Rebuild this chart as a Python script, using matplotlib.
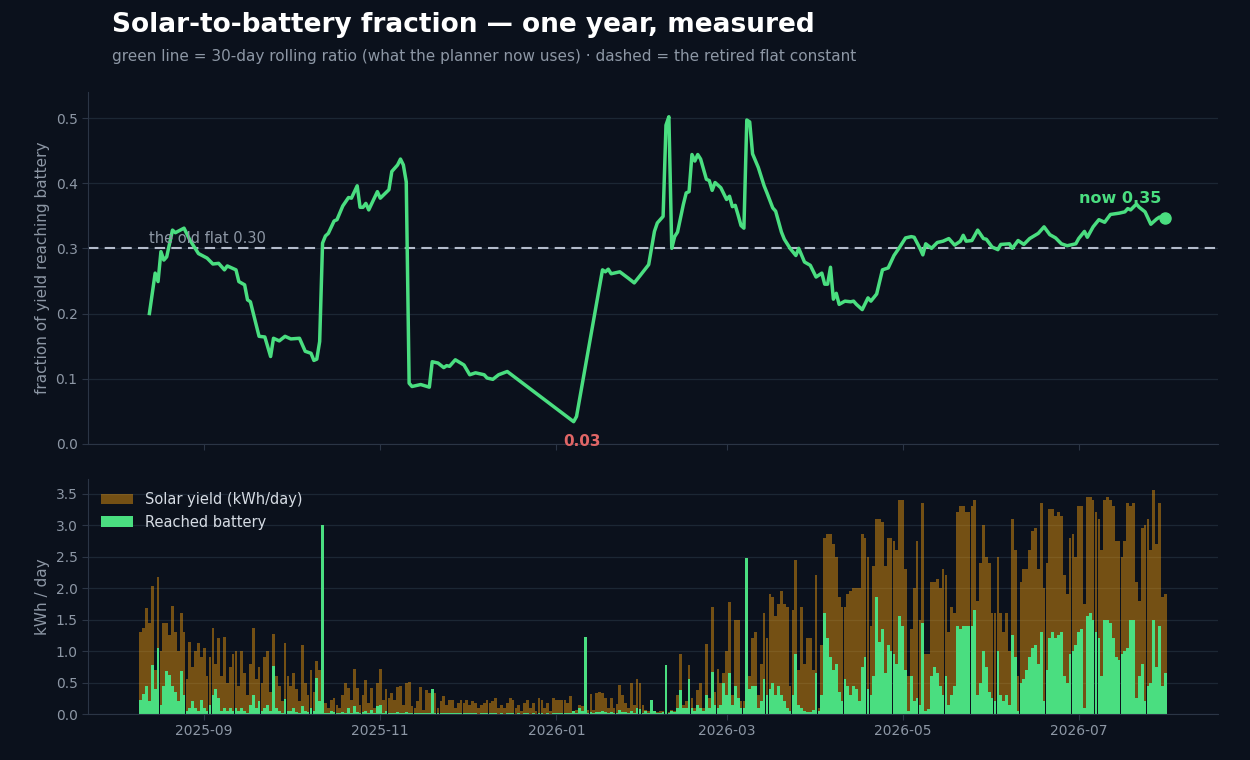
import matplotlib

matplotlib.use("Agg")

import matplotlib.dates as mdates
import matplotlib.pyplot as plt
import numpy as np
import pandas as pd


OUT_PATH = "out.png"

BG = "#0b111c"
GRID = "#1c2734"
SPINE = "#2b3545"
MUTED = "#8d97a5"
GREEN = "#4ade80"
AMBER = "#f59e0b"
RED = "#e06666"
FLAT = "#b4bccc"

START = "2025-08-10"
FLAT_CONSTANT = 0.30

# daily solar yield, kWh (one row per month, Aug 10 2025 .. Jul 31 2026)
yield_aug = [1.30, 1.37, 1.68, 1.45, 2.03, 0.70, 2.18, 1.00, 1.45, 1.45, 1.25, 1.72, 1.30, 1.00, 1.60, 1.30,
             0.55, 1.15, 0.75, 1.00, 1.13, 0.90]
yield_sep = [1.05, 0.60, 0.90, 1.37, 0.80, 1.20, 0.60, 1.23, 0.50, 0.75, 0.95, 1.00, 0.45, 1.00, 0.65, 0.30,
             0.80, 1.37, 0.55, 0.75, 0.50, 0.90, 1.00, 0.35, 1.27, 0.60, 0.45, 0.20, 1.13, 0.60]
yield_oct = [0.45, 0.65, 0.40, 0.20, 1.10, 0.50, 0.30, 0.70, 0.35, 0.84, 0.70, 0.30, 0.17, 0.10, 0.23, 0.25,
             0.15, 0.10, 0.30, 0.49, 0.41, 0.22, 0.71, 0.41, 0.15, 0.30, 0.54, 0.17, 0.41, 0.10, 0.49]
yield_nov = [0.72, 0.22, 0.39, 0.25, 0.33, 0.22, 0.43, 0.44, 0.14, 0.49, 0.51, 0.12, 0.09, 0.20, 0.43, 0.06,
             0.38, 0.34, 0.30, 0.33, 0.09, 0.21, 0.29, 0.14, 0.23, 0.23, 0.09, 0.18, 0.22, 0.18]
yield_dec = [0.22, 0.15, 0.20, 0.17, 0.09, 0.15, 0.17, 0.22, 0.17, 0.20, 0.25, 0.10, 0.14, 0.09, 0.17, 0.25,
             0.22, 0.10, 0.14, 0.05, 0.17, 0.22, 0.10, 0.18, 0.05, 0.25, 0.22, 0.10, 0.18, 0.05, 0.25]
yield_jan = [0.22, 0.23, 0.23, 0.23, 0.17, 0.29, 0.04, 0.06, 0.14, 0.12, 0.13, 0.06, 0.32, 0.06, 0.33, 0.35,
             0.33, 0.26, 0.09, 0.26, 0.09, 0.16, 0.46, 0.30, 0.17, 0.09, 0.50, 0.14, 0.55, 0.50, 0.14]
yield_feb = [0.06, 0.05, 0.05, 0.03, 0.03, 0.04, 0.05, 0.04, 0.03, 0.06, 0.05, 0.30, 0.95, 0.15, 0.20, 0.78,
             0.25, 0.10, 0.38, 0.50, 0.10, 1.11, 0.25, 1.70, 0.35, 0.72, 0.50, 0.65]
yield_mar = [1.00, 1.78, 0.30, 1.50, 1.50, 0.20, 0.20, 0.25, 0.60, 1.20, 1.30, 0.30, 0.80, 1.60, 1.20, 1.90,
             1.85, 1.55, 1.75, 1.95, 1.75, 1.70, 0.45, 1.65, 2.45, 0.70, 1.70, 0.80, 1.20, 1.20, 0.70]
yield_apr = [2.20, 0.10, 1.10, 2.80, 2.85, 2.85, 2.70, 2.50, 1.85, 1.70, 1.70, 1.90, 1.95, 2.00, 2.00, 2.00,
             2.85, 2.80, 2.50, 1.40, 2.35, 3.10, 3.10, 3.05, 2.35, 2.80, 2.80, 2.75, 2.60, 3.40]
yield_may = [3.40, 2.30, 0.60, 1.35, 2.00, 2.75, 1.50, 3.35, 0.95, 0.95, 2.10, 2.10, 2.15, 2.00, 2.30, 2.20,
             1.30, 1.70, 1.60, 3.20, 3.30, 3.30, 3.20, 3.20, 3.30, 3.40, 1.80, 2.40, 3.00, 2.50, 2.40]
yield_jun = [1.60, 1.60, 2.50, 1.60, 1.30, 1.60, 1.00, 3.10, 2.60, 0.60, 2.10, 2.30, 2.30, 2.60, 2.90, 2.95,
             2.30, 3.35, 2.00, 2.40, 3.25, 3.25, 3.15, 3.20, 3.15, 2.20, 1.90, 2.80, 2.85, 2.50]
yield_jul = [3.30, 3.30, 1.75, 3.45, 3.45, 3.40, 3.20, 3.10, 2.60, 3.40, 3.45, 3.40, 3.30, 2.75, 2.75, 2.50,
             2.75, 3.35, 3.30, 3.35, 2.10, 1.80, 2.95, 3.00, 3.10, 2.60, 3.55, 2.70, 3.35, 1.85, 1.90]

# daily energy that reached the battery, kWh
bat_aug = [0.23, 0.32, 0.45, 0.20, 0.78, 0.40, 1.05, 0.15, 0.45, 0.69, 0.62, 0.45, 0.35, 0.20, 0.68, 0.30,
           0.05, 0.10, 0.20, 0.10, 0.05, 0.23]
bat_sep = [0.10, 0.05, 0.15, 0.30, 0.39, 0.25, 0.05, 0.10, 0.05, 0.10, 0.05, 0.10, 0.05, 0.10, 0.05, 0.02,
           0.15, 0.30, 0.10, 0.20, 0.05, 0.10, 0.15, 0.05, 0.76, 0.10, 0.05, 0.02, 0.24, 0.05]
bat_oct = [0.05, 0.10, 0.03, 0.02, 0.12, 0.05, 0.03, 0.10, 0.05, 0.57, 0.20, 3.00, 0.02, 0.02, 0.05, 0.03,
           0.02, 0.02, 0.03, 0.02, 0.10, 0.02, 0.13, 0.03, 0.02, 0.03, 0.05, 0.02, 0.06, 0.02, 0.12]
bat_nov = [0.14, 0.02, 0.05, 0.02, 0.02, 0.02, 0.03, 0.02, 0.01, 0.03, 0.02, 0.01, 0.01, 0.01, 0.02, 0.01,
           0.01, 0.01, 0.40, 0.01, 0.01, 0.01, 0.02, 0.01, 0.01, 0.01, 0.01, 0.01, 0.01, 0.01]
bat_dec = [0.01, 0.01, 0.02, 0.01, 0.00, 0.01, 0.01, 0.02, 0.01, 0.01, 0.02, 0.00, 0.01, 0.00, 0.01, 0.02,
           0.01, 0.00, 0.01, 0.00, 0.01, 0.02, 0.00, 0.01, 0.00, 0.02, 0.01, 0.00, 0.01, 0.00, 0.02]
bat_jan = [0.01, 0.01, 0.01, 0.01, 0.01, 0.02, 0.04, 0.02, 0.10, 0.05, 1.22, 0.02, 0.03, 0.02, 0.03, 0.03,
           0.05, 0.03, 0.01, 0.03, 0.01, 0.02, 0.06, 0.03, 0.03, 0.02, 0.05, 0.02, 0.10, 0.08, 0.02]
bat_feb = [0.05, 0.02, 0.22, 0.05, 0.02, 0.02, 0.03, 0.78, 0.02, 0.05, 0.03, 0.10, 0.38, 0.10, 0.10, 0.55,
           0.10, 0.05, 0.15, 0.10, 0.05, 0.30, 0.10, 0.67, 0.15, 0.09, 0.15, 0.50]
bat_mar = [0.30, 0.65, 0.15, 0.45, 0.25, 0.10, 0.10, 2.48, 0.40, 0.45, 0.45, 0.10, 0.20, 0.55, 0.30, 0.40,
           0.50, 0.30, 0.45, 0.30, 0.20, 0.10, 0.05, 0.30, 0.95, 0.15, 0.10, 0.05, 0.03, 0.03, 0.06]
bat_apr = [0.65, 0.05, 0.30, 1.60, 1.20, 0.90, 0.70, 0.80, 0.35, 0.20, 0.55, 0.45, 0.30, 0.45, 0.40, 0.20,
           0.75, 0.90, 0.40, 0.30, 0.60, 1.85, 1.15, 1.35, 0.65, 1.10, 1.00, 0.95, 0.80, 1.55]
bat_may = [1.40, 0.70, 0.05, 0.60, 0.20, 0.25, 0.15, 1.45, 0.05, 0.08, 0.60, 0.75, 0.65, 0.45, 0.30, 0.60,
           0.15, 0.30, 0.45, 1.40, 1.35, 1.40, 1.40, 1.40, 1.40, 1.65, 0.30, 0.50, 1.00, 0.75, 0.35]
bat_jun = [0.25, 0.20, 1.00, 0.30, 0.20, 0.30, 0.15, 1.25, 0.90, 0.05, 0.50, 0.55, 0.70, 0.90, 1.05, 1.10,
           0.80, 1.30, 0.20, 0.70, 1.20, 1.30, 1.20, 1.25, 1.30, 0.60, 0.50, 0.95, 1.00, 1.10]
bat_jul = [1.30, 1.35, 0.10, 1.55, 1.60, 1.50, 1.30, 1.20, 0.60, 1.50, 1.50, 1.45, 1.20, 0.90, 0.85, 0.95,
           1.00, 1.05, 1.50, 1.50, 0.25, 0.60, 0.80, 0.20, 0.45, 0.50, 1.50, 0.75, 1.40, 0.45, 0.65]

# 30-day rolling ratio as plotted (day = days since START)
ratio_day = [3, 5, 6, 7, 8, 9, 11, 12, 15, 17, 20, 23, 25, 27, 29, 30, 33, 34, 36, 37, 38, 41, 43, 45, 46,
             48, 50, 52, 55, 57, 59, 60, 61, 62, 63, 64, 65, 67, 68, 70, 72, 73, 75, 76, 77, 78, 79, 82, 83,
             86, 87, 89, 90, 91, 92, 93, 94, 97, 100, 101, 103, 105, 106, 107, 109, 112, 114, 116, 119, 120,
             122, 124, 127, 150, 151, 160, 161, 162, 163, 166, 169, 171, 173, 176, 178, 179, 181, 182, 183,
             184, 185, 186, 188, 189, 190, 191, 192, 193, 194, 196, 197, 198, 199, 201, 203, 204, 205, 206,
             207, 208, 209, 210, 211, 212, 214, 216, 217, 219, 220, 222, 223, 225, 227, 228, 230, 232, 234,
             236, 237, 238, 239, 240, 241, 242, 244, 246, 247, 248, 250, 252, 253, 255, 257, 259, 261, 263,
             265, 267, 268, 270, 271, 272, 274, 276, 278, 280, 282, 284, 285, 286, 288, 290, 292, 293, 295,
             297, 298, 301, 302, 304, 306, 308, 311, 313, 315, 317, 319, 321, 324, 325, 327, 328, 330, 332,
             334, 336, 339, 341, 342, 343, 345, 346, 348, 350, 352, 353, 355]
ratio_val = [0.200, 0.262, 0.249, 0.295, 0.282, 0.287, 0.328, 0.324, 0.331, 0.313, 0.292, 0.285, 0.276,
             0.277, 0.267, 0.273, 0.267, 0.249, 0.244, 0.221, 0.218, 0.165, 0.164, 0.134, 0.162, 0.158,
             0.165, 0.161, 0.162, 0.142, 0.139, 0.128, 0.130, 0.157, 0.308, 0.319, 0.323, 0.342, 0.344,
             0.365, 0.378, 0.377, 0.396, 0.363, 0.363, 0.369, 0.359, 0.387, 0.377, 0.390, 0.418, 0.428,
             0.437, 0.428, 0.402, 0.093, 0.088, 0.091, 0.087, 0.126, 0.124, 0.117, 0.120, 0.119, 0.129,
             0.121, 0.106, 0.109, 0.106, 0.101, 0.099, 0.106, 0.111, 0.034, 0.042, 0.267, 0.264, 0.268,
             0.261, 0.264, 0.254, 0.247, 0.258, 0.275, 0.326, 0.339, 0.349, 0.489, 0.502, 0.300, 0.318,
             0.325, 0.367, 0.385, 0.387, 0.444, 0.434, 0.444, 0.437, 0.406, 0.404, 0.389, 0.401, 0.393,
             0.375, 0.380, 0.364, 0.366, 0.351, 0.335, 0.331, 0.497, 0.494, 0.445, 0.424, 0.396, 0.385,
             0.362, 0.357, 0.325, 0.314, 0.300, 0.289, 0.300, 0.279, 0.274, 0.256, 0.262, 0.245, 0.245,
             0.271, 0.222, 0.231, 0.214, 0.219, 0.218, 0.219, 0.214, 0.206, 0.224, 0.219, 0.230, 0.267,
             0.270, 0.289, 0.302, 0.316, 0.318, 0.317, 0.300, 0.290, 0.307, 0.300, 0.309, 0.311, 0.315,
             0.305, 0.311, 0.320, 0.311, 0.312, 0.328, 0.315, 0.314, 0.302, 0.298, 0.306, 0.307, 0.300,
             0.312, 0.306, 0.315, 0.323, 0.333, 0.321, 0.316, 0.307, 0.304, 0.307, 0.315, 0.326, 0.317,
             0.333, 0.344, 0.340, 0.352, 0.354, 0.356, 0.361, 0.359, 0.368, 0.363, 0.356, 0.337, 0.345,
             0.348, 0.347]


def build_daily():
    solar = (yield_aug + yield_sep + yield_oct + yield_nov + yield_dec + yield_jan
             + yield_feb + yield_mar + yield_apr + yield_may + yield_jun + yield_jul)
    battery = (bat_aug + bat_sep + bat_oct + bat_nov + bat_dec + bat_jan
               + bat_feb + bat_mar + bat_apr + bat_may + bat_jun + bat_jul)
    dates = pd.date_range(START, periods=len(solar), freq="D")
    return pd.DataFrame({"solar": solar, "battery": battery}, index=dates)


def style_axis(ax):
    ax.set_facecolor(BG)
    for side in ("top", "right"):
        ax.spines[side].set_visible(False)
    for side in ("left", "bottom"):
        ax.spines[side].set_color(SPINE)
    ax.tick_params(colors=MUTED, labelsize=10, length=4, color=SPINE)
    ax.grid(axis="y", color=GRID, linewidth=0.9)
    ax.set_axisbelow(True)


def main():
    daily = build_daily()
    ratio_dates = pd.Timestamp(START) + pd.to_timedelta(ratio_day, unit="D")
    ratio = np.array(ratio_val)

    fig = plt.figure(figsize=(12.5, 7.6), dpi=100, facecolor=BG)
    ax_top = fig.add_axes([0.0704, 0.416, 0.904, 0.463])
    ax_bot = fig.add_axes([0.0704, 0.0605, 0.904, 0.309], sharex=ax_top)
    style_axis(ax_top)
    style_axis(ax_bot)

    # top: rolling ratio vs the retired constant
    ax_top.axhline(FLAT_CONSTANT, color=FLAT, linestyle=(0, (5, 3)), linewidth=1.5)
    ax_top.plot(ratio_dates, ratio, color=GREEN, linewidth=2.5, solid_joinstyle="round")
    ax_top.plot(ratio_dates[-1], ratio[-1], "o", color=GREEN, markersize=8)
    ax_top.text(ratio_dates[0], FLAT_CONSTANT + 0.004, f"the old flat {FLAT_CONSTANT:.2f}",
                color=MUTED, fontsize=10.5, ha="left", va="bottom")
    ax_top.annotate(f"now {ratio[-1]:.2f}", (ratio_dates[-1], ratio[-1]), xytext=(-4, 12),
                    textcoords="offset pixels", color=GREEN, fontsize=11.5, fontweight="bold",
                    ha="right", va="bottom")
    low = int(np.argmin(ratio))
    ax_top.annotate(f"{ratio[low]:.2f}", (ratio_dates[low], ratio[low]), xytext=(8, -12),
                    textcoords="offset pixels", color=RED, fontsize=11, fontweight="bold",
                    ha="center", va="top", annotation_clip=False)
    ax_top.set_ylim(0, 0.54)
    ax_top.set_ylabel("fraction of yield reaching battery", color=MUTED, fontsize=11)
    ax_top.tick_params(axis="x", labelbottom=False)

    # bottom: daily energy bars
    ax_bot.bar(daily.index, daily["solar"], width=0.95, color=AMBER, alpha=0.45,
               linewidth=0, label="Solar yield (kWh/day)")
    ax_bot.bar(daily.index, daily["battery"], width=0.95, color=GREEN, linewidth=0,
               label="Reached battery")
    ax_bot.set_ylabel("kWh / day", color=MUTED, fontsize=11)
    leg = ax_bot.legend(loc="upper left", frameon=False, fontsize=10.5, handlelength=2.2)
    for text in leg.get_texts():
        text.set_color("#d6dce4")

    ax_bot.xaxis.set_major_locator(mdates.MonthLocator(bymonth=[1, 3, 5, 7, 9, 11]))
    ax_bot.xaxis.set_major_formatter(mdates.DateFormatter("%Y-%m"))

    fig.text(0.0896, 0.967, "Solar-to-battery fraction \u2014 one year, measured",
             color="white", fontsize=19, fontweight="bold", va="center")
    fig.text(0.0896, 0.925,
             "green line = 30-day rolling ratio (what the planner now uses) \u00b7 dashed = the retired flat constant",
             color=MUTED, fontsize=11, va="center")

    fig.savefig(OUT_PATH, facecolor=BG)
    plt.close(fig)


if __name__ == "__main__":
    main()
